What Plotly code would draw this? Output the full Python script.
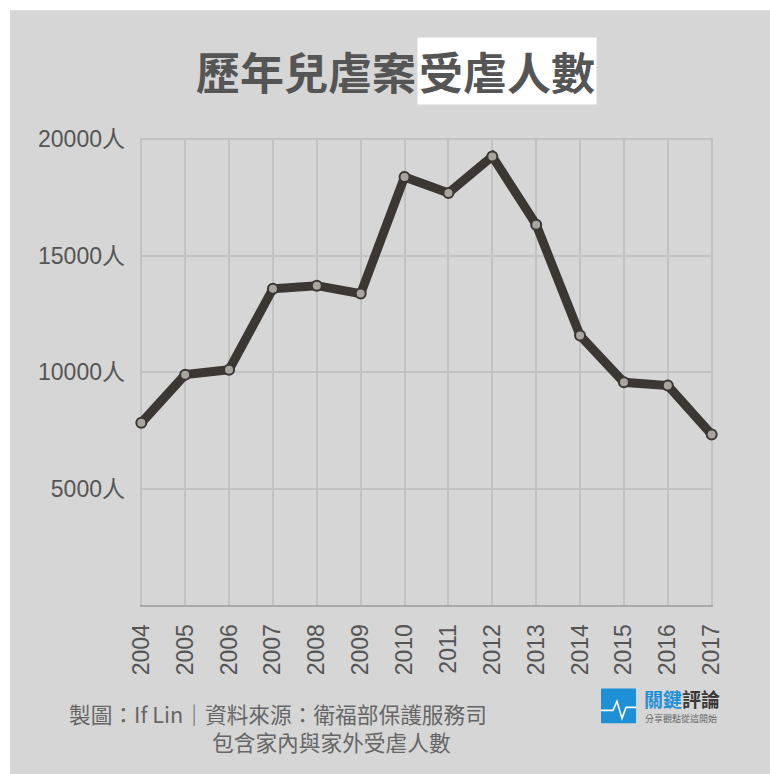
import plotly.graph_objects as go

years = [2004, 2005, 2006, 2007, 2008, 2009, 2010, 2011, 2012, 2013, 2014, 2015, 2016, 2017]
victims = [7820, 9890, 10100, 13580, 13710, 13370, 18380, 17690, 19260, 16330, 11570, 9560, 9420, 7320]
ytick_vals = [5000, 10000, 15000, 20000]
ytick_text = [f"{v}人" for v in ytick_vals]
title_a = "歷年兒虐案"
title_b = "受虐人數"
note_1 = "製圖：If Lin｜資料來源：衛福部保護服務司"
note_2 = "包含家內與家外受虐人數"

W, H = 770, 774
L, R, T, B = 140, 57, 138, 168.5
PW = W - L - R
PH = H - T - B

def px(x):
    return (x - L) / PW

def py(y):
    return (H - B - y) / PH

BG = "#d6d6d6"
INK = "#3b3732"
TXT = "#555555"
GRID = "#c2c2c2"
CJK = "Noto Sans CJK TC"
NUM = "Liberation Sans, Noto Sans CJK TC"

fig = go.Figure()
fig.add_trace(go.Scatter(
    x=years, y=victims, mode="lines+markers",
    line=dict(color=INK, width=9),
    marker=dict(size=10, color="#a8a59f", line=dict(color=INK, width=2)),
    cliponaxis=False, hoverinfo="skip", showlegend=False,
))

shapes = [
    dict(type="rect", xref="paper", yref="paper", layer="below",
         x0=px(10), x1=px(W + 5), y0=py(H + 5), y1=py(10),
         fillcolor=BG, line=dict(width=0)),
    dict(type="rect", xref="paper", yref="paper",
         x0=px(601), x1=px(636), y0=py(724), y1=py(689),
         fillcolor="#1e90d6", line=dict(width=0)),
]
pulse = [(601, 711), (613, 711), (617, 702), (622, 719), (626, 708), (636, 708)]
path = "M " + " L ".join(f"{px(a)},{py(b)}" for a, b in pulse)
shapes.append(dict(type="path", xref="paper", yref="paper", path=path,
                   line=dict(color="white", width=1.6)))

annotations = [
    dict(text=f"<b>{title_a}</b>", x=px(418), y=py(71), xref="paper", yref="paper",
         xanchor="right", yanchor="middle", showarrow=False,
         font=dict(family=CJK, size=44, color="#555555")),
    dict(text=f"<b>{title_b}</b>", x=px(417), y=py(71), xref="paper", yref="paper",
         xanchor="left", yanchor="middle", showarrow=False, bgcolor="white", borderpad=1,
         font=dict(family=CJK, size=44, color="#555555")),
    dict(text=note_1, x=px(67), y=py(714), xref="paper", yref="paper",
         xanchor="left", yanchor="middle", showarrow=False,
         font=dict(family=CJK, size=21.7, color="#666666")),
    dict(text=note_2, x=px(210), y=py(742), xref="paper", yref="paper",
         xanchor="left", yanchor="middle", showarrow=False,
         font=dict(family=CJK, size=21.7, color="#666666")),
    dict(text="<b><span style='color:#1e90d6'>關鍵</span>評論</b>", x=px(642), y=py(699),
         xref="paper", yref="paper", xanchor="left", yanchor="middle", showarrow=False,
         font=dict(family=CJK, size=19, color="#3a3a3a")),
    dict(text="分享觀點從這開始", x=px(643), y=py(719), xref="paper", yref="paper",
         xanchor="left", yanchor="middle", showarrow=False,
         font=dict(family=CJK, size=9, color="#666666")),
]

fig.update_layout(
    width=W, height=H,
    margin=dict(l=L, r=R, t=T, b=B, pad=0),
    paper_bgcolor="white", plot_bgcolor=BG,
    shapes=shapes, annotations=annotations,
    xaxis=dict(range=[2003.97, 2017.03], tickvals=years, ticktext=[str(y) for y in years],
               tickangle=-90, showgrid=True, gridcolor=GRID, gridwidth=2,
               zeroline=False, showline=True, linecolor="#a9a9a9", linewidth=2,
               ticks="", ticklabelstandoff=8,
               tickfont=dict(family=NUM, size=23, color=TXT), fixedrange=True),
    yaxis=dict(range=[0, 20050], tickvals=ytick_vals, ticktext=ytick_text,
               showgrid=True, gridcolor=GRID, gridwidth=2,
               zeroline=False, showline=False, ticks="", ticklabelstandoff=14,
               tickfont=dict(family=NUM, size=23, color=TXT), fixedrange=True),
)

fig.write_html("out.html", config={"displayModeBar": False},
               post_script="document.body.style.margin='0';")
